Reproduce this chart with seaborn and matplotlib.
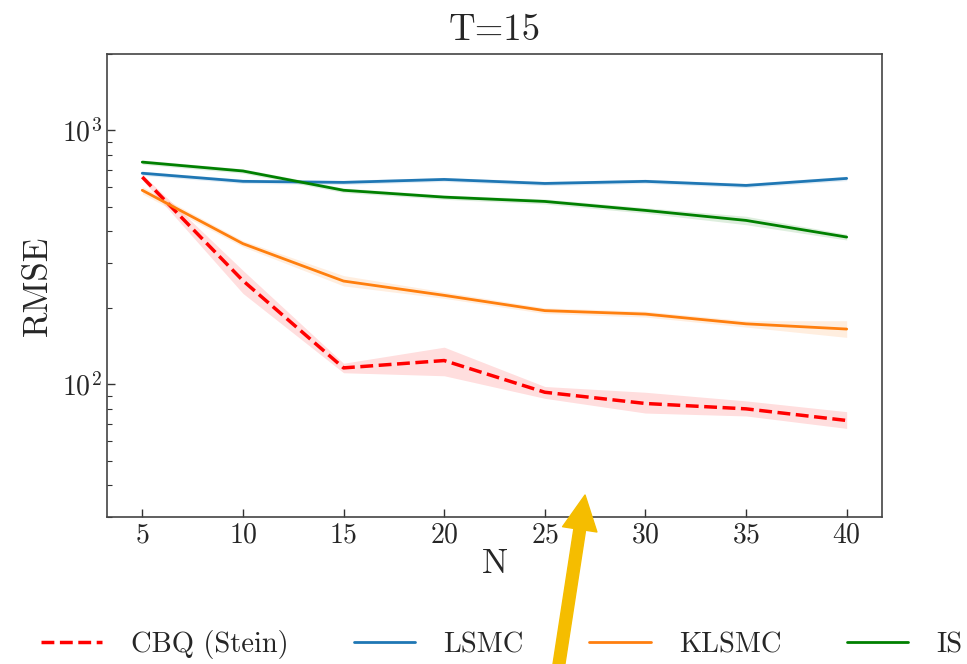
import numpy as np
import pandas as pd
import matplotlib.pyplot as plt
import seaborn as sns

N = [5, 10, 15, 20, 25, 30, 35, 40]

cbq = [655, 256, 116, 124, 93, 84, 80, 72]
cbq_lo = [638, 228, 111, 108, 88, 77, 75, 67]
cbq_hi = [672, 281, 121, 140, 98, 93, 86, 78]

lsmc = [678, 630, 624, 641, 618, 630, 607, 647]
lsmc_lo = [665, 618, 612, 629, 606, 618, 595, 634]
lsmc_hi = [691, 642, 636, 653, 630, 642, 619, 660]

klsmc = [581, 358, 255, 224, 195, 189, 173, 165]
klsmc_lo = [562, 348, 244, 218, 190, 184, 168, 153]
klsmc_hi = [600, 368, 268, 231, 200, 194, 178, 178]

is_ = [750, 692, 581, 546, 525, 484, 442, 380]
is_lo = [735, 678, 569, 535, 513, 472, 425, 370]
is_hi = [765, 706, 593, 557, 537, 496, 459, 390]

methods = ['CBQ (Stein)', 'LSMC', 'KLSMC', 'IS']

sns.set_style('ticks')
plt.rcParams['font.family'] = ['cmr10', 'DejaVu Serif']
plt.rcParams['mathtext.fontset'] = 'cm'
plt.rcParams['axes.formatter.use_mathtext'] = True
plt.rcParams['xtick.direction'] = 'in'
plt.rcParams['ytick.direction'] = 'in'

fig = plt.figure(figsize=(9.67, 6.64), dpi=100)
ax = fig.add_axes([0.1107, 0.2214, 0.8013, 0.6973])

series = [
    (cbq, cbq_lo, cbq_hi, 'red', '--', 2.5),
    (lsmc, lsmc_lo, lsmc_hi, '#1f77b4', '-', 2),
    (klsmc, klsmc_lo, klsmc_hi, '#ff7f0e', '-', 2),
    (is_, is_lo, is_hi, 'green', '-', 2),
]
for name, (m, lo, hi, c, ls, lw) in zip(methods, series):
    df = pd.DataFrame({'N': N, 'RMSE': m})
    sns.lineplot(data=df, x='N', y='RMSE', color=c, linestyle=ls, lw=lw, label=name, ax=ax)
    ax.fill_between(N, lo, hi, color=c, alpha=0.13, lw=0)

ax.set_yscale('log')
ax.set_ylim(30, 2000)
ax.set_xlim(3.25, 41.75)
ax.set_xticks(N)
ax.tick_params(axis='both', which='major', labelsize=20, length=6, width=1, color='#333333')
ax.tick_params(axis='y', which='minor', length=3.5, width=0.8, color='#333333')
for s in ax.spines.values():
    s.set_color('#444444')
    s.set_linewidth(1.2)
ax.set_xlabel('N', fontsize=25, labelpad=0)
ax.set_ylabel('RMSE', fontsize=25, labelpad=6)
ax.set_title('T=15', fontsize=26.5, pad=10)

h, l = ax.get_legend_handles_labels()
ax.legend_.remove()
fig.legend(h, l, loc='center', bbox_to_anchor=(0.519, 0.029), ncol=4, frameon=False,
           fontsize=20.5, handlelength=2.15, handletextpad=1.0, columnspacing=2.3)

# yellow pointer arrow overlay
ax.annotate('', xy=(0.605, 0.2545), xytext=(0.577, -0.01), xycoords='figure fraction',
            textcoords='figure fraction',
            arrowprops=dict(width=8.5, headwidth=25, headlength=25, color='#f5bd00', shrink=0))

fig.savefig('out.png', dpi=100)
